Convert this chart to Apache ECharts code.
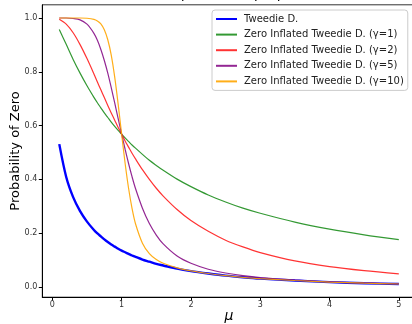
<!DOCTYPE html>
<html>
<head>
<meta charset="utf-8">
<script src="https://cdn.jsdelivr.net/npm/echarts@6/dist/echarts.min.js"></script>
<style>html,body{margin:0;padding:0;background:#fff;}#c{width:412px;height:324px;}</style>
</head>
<body>
<div id="c"></div>
<script>
const mu = [0.1,0.2,0.3,0.4,0.5,0.6,0.65,0.7,0.75,0.8,0.85,0.9,0.95,1.0,1.05,1.1,1.15,1.2,1.3,1.4,1.5,1.6,1.8,2.0,2.25,2.5,2.75,3.0,3.5,4.0,4.5,5.0];
const tweedie = [0.531,0.409,0.334,0.282,0.243,0.212,0.199,0.188,0.177,0.167,0.158,0.150,0.142,0.135,0.129,0.123,0.117,0.112,0.102,0.094,0.086,0.080,0.068,0.059,0.050,0.042,0.036,0.031,0.024,0.018,0.014,0.011];
const zitGamma1 = [0.957,0.902,0.846,0.795,0.748,0.705,0.685,0.666,0.647,0.630,0.613,0.597,0.582,0.568,0.554,0.541,0.528,0.516,0.493,0.471,0.452,0.434,0.401,0.373,0.342,0.316,0.293,0.274,0.241,0.215,0.194,0.176];
const zitGamma2 = [0.995,0.977,0.945,0.901,0.849,0.792,0.762,0.733,0.704,0.675,0.647,0.620,0.593,0.568,0.543,0.520,0.497,0.476,0.436,0.400,0.367,0.338,0.288,0.247,0.207,0.174,0.149,0.128,0.097,0.076,0.061,0.049];
const zitGamma5 = [1.000,1.000,0.998,0.993,0.977,0.943,0.917,0.883,0.842,0.795,0.741,0.684,0.626,0.568,0.512,0.459,0.410,0.366,0.293,0.236,0.193,0.160,0.115,0.088,0.066,0.052,0.042,0.035,0.026,0.019,0.015,0.012];
const zitGamma10 = [1.000,1.000,1.000,1.000,0.999,0.995,0.989,0.978,0.956,0.919,0.862,0.780,0.679,0.568,0.460,0.367,0.292,0.235,0.163,0.124,0.102,0.088,0.071,0.060,0.050,0.042,0.036,0.031,0.024,0.018,0.014,0.011];
const seriesNames = ['Tweedie D.','Zero Inflated Tweedie D. (γ=1)','Zero Inflated Tweedie D. (γ=2)','Zero Inflated Tweedie D. (γ=5)','Zero Inflated Tweedie D. (γ=10)'];
const xTicks = [0,1,2,3,4,5];
const yTicks = [0,0.2,0.4,0.6,0.8,1.0];
const yTickLabels = ['0.0','0.2','0.4','0.6','0.8','1.0'];
const xAxisTitle = 'μ';
const yAxisTitle = 'Probability of Zero';
const chartTitle = 'q = 1/(1 + μ^γ)';

const FONT = 'DejaVu Sans';
const colors = ['#0000ff','rgba(0,128,0,0.8)','rgba(255,0,0,0.8)','rgba(128,0,128,0.85)','rgba(255,165,0,0.9)'];
const widths = [2.4,1.2,1.2,1.2,1.2];
const allData = [tweedie, zitGamma1, zitGamma2, zitGamma5, zitGamma10];

const chart = echarts.init(document.getElementById('c'), null, {renderer:'canvas'});
chart.setOption({
  animation:false,
  backgroundColor:'#fff',
  textStyle:{fontFamily:FONT},
  grid:{left:42.3, top:4.8, width:373.5, height:292.4, show:true, borderColor:'#333', borderWidth:1, containLabel:false, outerBoundsMode:'none'},
  graphic:[
    {type:'text', x:232, y:-12.5,
     style:{text:chartTitle, font:'14px "DejaVu Sans"', fill:'#000', textAlign:'center'}},
    {type:'text', x:16, y:151, rotation:Math.PI/2,
     style:{text:yAxisTitle, font:'13px "DejaVu Sans"', fill:'#000', textAlign:'center', textVerticalAlign:'middle'}},
    {type:'text', x:229, y:316.5,
     style:{text:xAxisTitle, font:'italic 14px "DejaVu Sans"', fill:'#000', textAlign:'center', textVerticalAlign:'middle'}}
  ],
  legend:{
    show:true, orient:'vertical', left:212, top:10,
    padding:[3,4,3,4], backgroundColor:'#fff', borderColor:'#cccccc', borderWidth:1, borderRadius:3,
    itemWidth:21, itemHeight:2, itemGap:3.6, icon:'rect',
    textStyle:{fontFamily:FONT, fontSize:10, color:'#222', lineHeight:12, padding:[0,0,0,2]},
    data:seriesNames
  },
  xAxis:{
    type:'value', min:-0.145, max:5.245,
    axisLine:{show:true, onZero:false, lineStyle:{color:'#000', width:1}},
    axisTick:{show:true, length:3.5, customValues:xTicks, lineStyle:{color:'#000'}},
    axisLabel:{customValues:xTicks, fontSize:8, color:'#333', margin:4, formatter:v=>String(v)},
    splitLine:{show:false}
  },
  yAxis:{
    type:'value', min:-0.038, max:1.049,
    axisLine:{show:true, onZero:false, lineStyle:{color:'#000', width:1}},
    axisTick:{show:true, length:3.5, customValues:yTicks, lineStyle:{color:'#000'}},
    axisLabel:{customValues:yTicks, fontSize:8, color:'#333', margin:5,
      formatter:v=>{const i=yTicks.findIndex(t=>Math.abs(t-v)<1e-6); return i>=0?yTickLabels[i]:'';}},
    splitLine:{show:false}
  },
  series: allData.map((d,i)=>({
    name:seriesNames[i], type:'line', showSymbol:false, symbol:'none',
    smooth:0.3,
    data: mu.map((m,j)=>[m,d[j]]),
    lineStyle:{color:colors[i], width:widths[i]},
    itemStyle:{color:colors[i]},
    z:2+i
  }))
});
</script>
</body>
</html>
